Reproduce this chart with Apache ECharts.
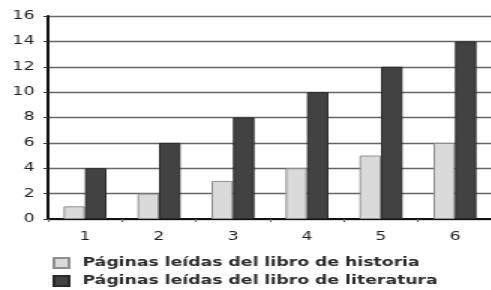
<!DOCTYPE html>
<html><head><meta charset="utf-8">
<script src="https://cdn.jsdelivr.net/npm/echarts@6/dist/echarts.min.js"></script>
<style>html,body{margin:0;padding:0;background:#fff;overflow:hidden}
#c{width:328px;height:290px;transform:scaleX(1.5);transform-origin:0 0}</style>
</head><body><div id="c"></div>
<script>
const categories = ['1','2','3','4','5','6'];
const historia = [1,2,3,4,5,6];
const literatura = [4,6,8,10,12,14];
const seriesNames = ['Páginas leídas del libro de historia','Páginas leídas del libro de literatura'];
const yTicks = {min:0, max:16, interval:2};

const chart = echarts.init(document.getElementById('c'), null, {renderer:'canvas'});
const font = 'DejaVu Sans';
chart.setOption({
  animation:false,
  backgroundColor:'#fff',
  grid:{left:32, top:16, width:300, height:203, containLabel:false},
  xAxis:{type:'category', data:categories,
    axisLine:{lineStyle:{color:'#111', width:2}},
    axisTick:{show:true, length:3, lineStyle:{color:'#666'}},
    axisLabel:{color:'#222', fontFamily:font, fontSize:11.5, margin:12},
    splitLine:{show:false}},
  yAxis:{type:'value', min:yTicks.min, max:yTicks.max, interval:yTicks.interval,
    axisLine:{show:true, lineStyle:{color:'#111', width:2}},
    axisTick:{show:true, length:3, lineStyle:{color:'#333'}},
    axisLabel:{color:'#222', fontFamily:font, fontSize:11.5, margin:9},
    splitLine:{lineStyle:{color:'#666', width:1.4}}},
  legend:{orient:'vertical', left:35, top:257, height:40, padding:0, icon:'rect',
    itemWidth:10, itemHeight:10, itemGap:6,
    textStyle:{color:'#2a2a2a', fontFamily:font, fontSize:11.5, fontWeight:'bold', padding:[0,0,0,4]},
    data:seriesNames},
  series:[
    {name:seriesNames[0], type:'bar', data:historia, barGap:'0%', barCategoryGap:'42%',
     itemStyle:{color:'#dadada', borderColor:'#909090', borderWidth:1}},
    {name:seriesNames[1], type:'bar', data:literatura, barGap:'0%', barCategoryGap:'42%',
     itemStyle:{color:'#424242', borderColor:'#2a2a2a', borderWidth:1}}
  ]
});
</script></body></html>
